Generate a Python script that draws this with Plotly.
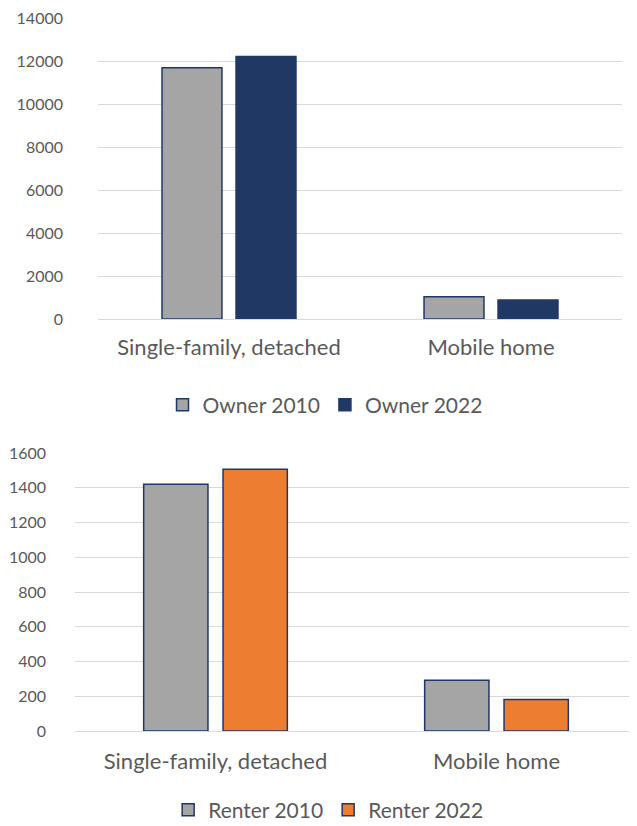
import plotly.graph_objects as go

categories = ["Single-family, detached", "Mobile home"]
owner_2010 = [11690, 1030]
owner_2022 = [12210, 880]
renter_2010 = [1420, 292]
renter_2022 = [1507, 181]
owner_ticks = [0, 2000, 4000, 6000, 8000, 10000, 12000, 14000]
renter_ticks = [0, 200, 400, 600, 800, 1000, 1200, 1400, 1600]

GRAY = "#a5a5a5"
NAVY = "#203864"
ORANGE = "#ed7d31"
TEXT = "#595959"
GRID = "#d9d9d9"
FONT = "Lato, Carlito, Calibri, sans-serif"

# page has an 8px body margin; figure sized to fill the rest of the window
OFF = 8
W, H = 637 - OFF, 826 - OFF

fig = go.Figure()
fig.add_trace(go.Bar(name="Owner 2010", x=categories, y=owner_2010, marker=dict(color=GRAY, line=dict(color=NAVY, width=1.5)),
                     xaxis="x", yaxis="y", legend="legend"))
fig.add_trace(go.Bar(name="Owner 2022", x=categories, y=owner_2022, marker=dict(color=NAVY, line=dict(color=NAVY, width=1.5)),
                     xaxis="x", yaxis="y", legend="legend"))
fig.add_trace(go.Bar(name="Renter 2010", x=categories, y=renter_2010, marker=dict(color=GRAY, line=dict(color=NAVY, width=1.5)),
                     xaxis="x2", yaxis="y2", legend="legend2"))
fig.add_trace(go.Bar(name="Renter 2022", x=categories, y=renter_2022, marker=dict(color=ORANGE, line=dict(color=NAVY, width=1.5)),
                     xaxis="x2", yaxis="y2", legend="legend2"))

def py(px):
    return 1 - (px - OFF) / H

def pxf(px):
    return min(1.0, (px - OFF) / W)

ytick_font = dict(family=FONT, size=16, color=TEXT)
xtick_font = dict(family=FONT, size=22, color=TEXT)
legend_font = dict(family=FONT, size=21, color=TEXT)

fig.update_layout(
    width=W, height=H,
    margin=dict(l=0, r=0, t=0, b=0, autoexpand=False),
    paper_bgcolor="white", plot_bgcolor="white",
    barmode="group", bargap=0.435, bargroupgap=0.19,
    font=dict(family=FONT, size=18, color=TEXT),
    showlegend=True,
    xaxis=dict(domain=[pxf(98), pxf(622)], anchor="y", showgrid=False, showline=False, ticks="",
               tickfont=xtick_font, ticklabelstandoff=13, automargin=False),
    yaxis=dict(domain=[py(319), py(18)], anchor="x", range=[0, 14000.01], tickvals=owner_ticks, tickformat="d",
               showgrid=True, gridcolor=GRID, gridwidth=1.3, zeroline=True, zerolinecolor=GRID, zerolinewidth=1.3,
               showline=False, ticks="", tickfont=ytick_font, ticklabelstandoff=34, automargin=False,
               ticklabeloverflow="allow"),
    xaxis2=dict(domain=[pxf(75), pxf(637)], anchor="y2", showgrid=False, showline=False, ticks="",
                tickfont=xtick_font, ticklabelstandoff=15, automargin=False),
    yaxis2=dict(domain=[py(731), py(453)], anchor="x2", range=[0, 1600.001], tickvals=renter_ticks, tickformat="d",
                showgrid=True, gridcolor=GRID, gridwidth=1.3, zeroline=True, zerolinecolor=GRID, zerolinewidth=1.3,
                showline=False, ticks="", tickfont=ytick_font, ticklabelstandoff=28, automargin=False,
                ticklabeloverflow="allow"),
    legend=dict(orientation="h", x=0.504, xanchor="center", y=py(405), yanchor="middle",
                font=legend_font, itemwidth=30, bgcolor="rgba(0,0,0,0)"),
    legend2=dict(orientation="h", x=0.509, xanchor="center", y=py(810), yanchor="middle",
                 font=legend_font, itemwidth=30, bgcolor="rgba(0,0,0,0)"),
)

fig.write_html("out.html")
